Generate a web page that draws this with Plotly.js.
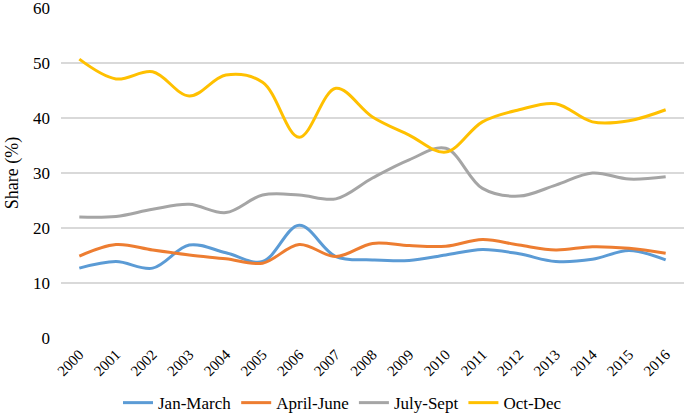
<!DOCTYPE html>
<html>
<head>
<meta charset="utf-8">
<script src="https://cdn.plot.ly/plotly-3.0.1.min.js"></script>
<style>html,body{margin:0;padding:0;background:#fff;}#chart{width:685px;height:413px;}</style>
</head>
<body>
<div id="chart"></div>
<script>
var years = ["2000","2001","2002","2003","2004","2005","2006","2007","2008","2009","2010","2011","2012","2013","2014","2015","2016"];
var janMarch = [12.7,13.9,12.7,16.9,15.5,13.9,20.5,14.8,14.2,14.1,15.1,16.1,15.3,13.9,14.3,15.9,14.2];
var aprilJune = [14.9,17.0,16.0,15.1,14.4,13.6,17.0,14.8,17.2,16.8,16.7,17.9,16.9,16.0,16.6,16.3,15.4];
var julySept = [22.0,22.1,23.4,24.3,22.8,26.0,26.0,25.3,29.1,32.4,34.5,27.2,25.8,27.8,30.0,28.9,29.3];
var octDec = [50.7,47.1,48.4,44.0,47.8,46.5,36.5,45.4,40.2,36.9,33.8,39.3,41.5,42.6,39.3,39.5,41.5];
var seriesNames = ["Jan-March","April-June","July-Sept","Oct-Dec"];
var seriesColors = ["#5B9BD5","#ED7D31","#A5A5A5","#FFC000"];
var seriesData = [janMarch, aprilJune, julySept, octDec];

var traces = seriesData.map(function(d, i){
  return {
    x: years, y: d, name: seriesNames[i], type: "scatter", mode: "lines",
    line: {color: seriesColors[i], width: 3, shape: "spline", smoothing: 1}
  };
});

var fam = "Liberation Serif, Times New Roman, serif";
var layout = {
  width: 685, height: 413,
  margin: {l: 61, r: 1, t: 8, b: 75, autoexpand: false},
  paper_bgcolor: "#fff", plot_bgcolor: "#fff",
  font: {family: fam, size: 15, color: "#000"},
  showlegend: true,
  legend: {orientation: "h", xref: "container", yref: "container", x: 0.5, xanchor: "center", y: 0.024, yanchor: "middle",
           font: {family: fam, size: 17, color: "#000"}, itemwidth: 30, tracegroupgap: 0},
  xaxis: {type: "category", range: [-0.5, 16.5], tickangle: -45, showgrid: false, zeroline: false, showline: false,
          automargin: false, ticks: "", ticklabelstandoff: 4, tickfont: {family: fam, size: 15, color: "#000"}},
  yaxis: {range: [0, 60], dtick: 10, showgrid: true, gridcolor: "#D9D9D9", gridwidth: 1.3, automargin: false,
          zeroline: false, showline: false, ticks: "", ticklabeloverflow: "allow", ticklabelstandoff: 10,
          tickfont: {family: fam, size: 17, color: "#000"},
          title: {text: "Share (%)", font: {family: fam, size: 18, color: "#000"}, standoff: 9}}
};
Plotly.newPlot("chart", traces, layout, {displayModeBar: false, staticPlot: true});
</script>
</body>
</html>
